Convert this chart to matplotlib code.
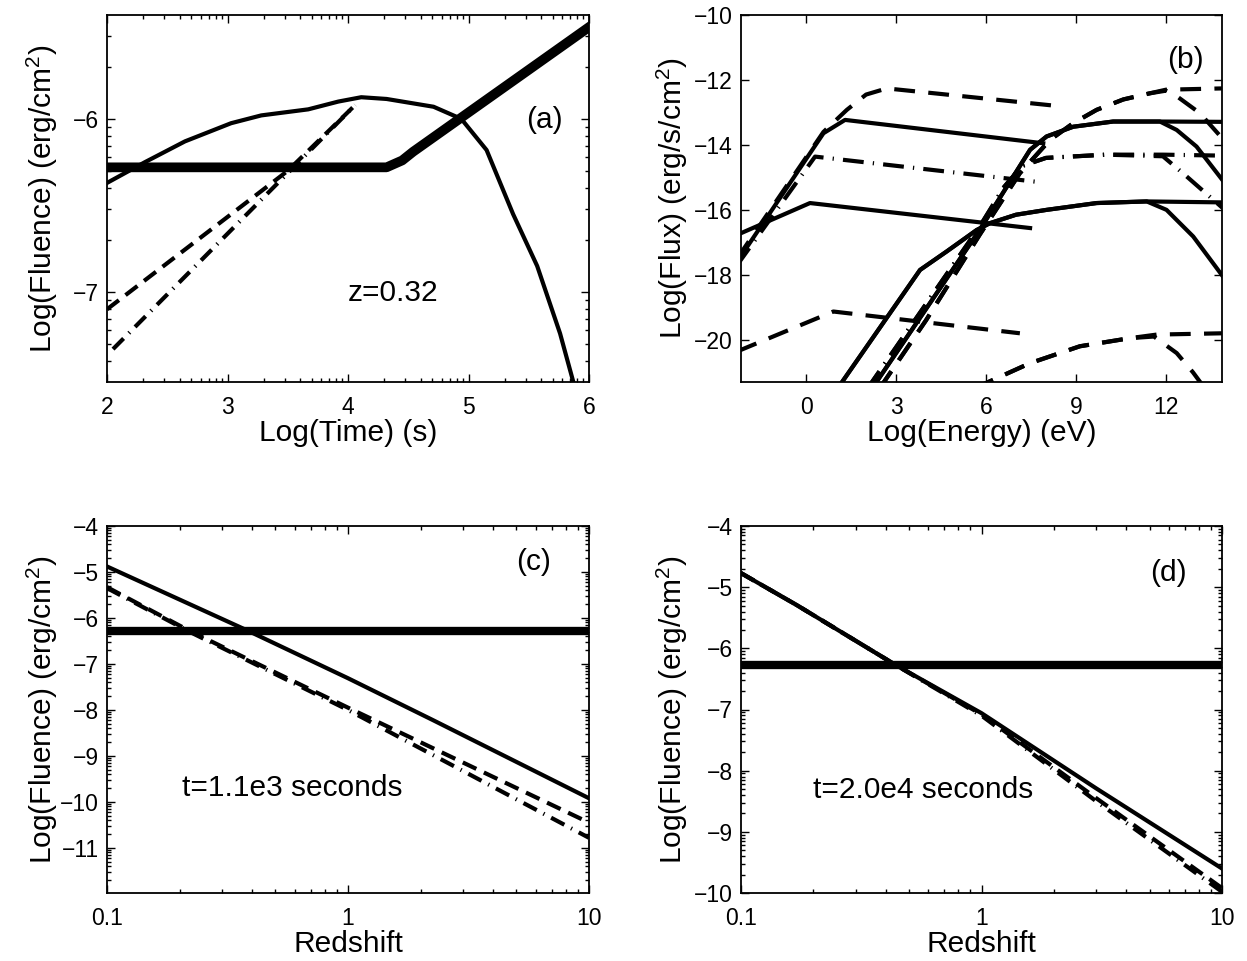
import numpy as np
import matplotlib
matplotlib.use("Agg")
import matplotlib.pyplot as plt
from matplotlib.ticker import FuncFormatter, LogLocator, MultipleLocator, NullFormatter

plt.rcParams["font.family"] = ["Liberation Sans", "DejaVu Sans"]
plt.rcParams["mathtext.fontset"] = "custom"
plt.rcParams["mathtext.rm"] = "Liberation Sans"
plt.rcParams["mathtext.default"] = "regular"
plt.rcParams["axes.unicode_minus"] = True

# ---- panel (a): fluence vs time, log10 values ----
t_model = [2.0, 2.315, 2.647, 3.03, 3.28, 3.67, 3.92, 4.11, 4.32, 4.71, 4.94, 5.15, 5.37, 5.57, 5.76, 5.87, 5.95]
f_model = [-6.37, -6.25, -6.13, -6.025, -5.98, -5.945, -5.90, -5.875, -5.885, -5.93, -6.0, -6.18, -6.55, -6.85, -7.24, -7.52, -7.75]
t_sens = [2.0, 4.32, 4.45, 4.54, 6.0]
f_sens = [-6.28, -6.28, -6.24, -6.19, -5.47]
t_dash = [2.0, 3.5, 4.06]
f_dash = [-7.10, -6.30, -5.92]
t_dashdot = [2.05, 4.06]
f_dashdot = [-7.33, -5.92]

# ---- panel (b): spectra, log10 values ----
sync_solid_hi_x = [-2.3, 0.58, 1.3, 7.91]
sync_solid_hi_y = [-17.6, -13.64, -13.23, -13.95]
sync_dash_hi_x = [-2.3, 0.58, 1.36, 2.0, 2.69, 8.58]
sync_dash_hi_y = [-17.5, -13.6, -12.92, -12.45, -12.26, -12.82]
sync_dashdot_x = [-2.3, 0.3, 7.63]
sync_dashdot_y = [-17.7, -14.36, -15.13]
sync_solid_lo_x = [-2.3, 0.13, 7.47]
sync_solid_lo_y = [-16.77, -15.79, -16.56]
sync_dash_lo_x = [-2.3, 0.91, 7.13]
sync_dash_lo_y = [-20.36, -19.13, -19.8]

ic_solid_hi_x = [2.2, 4.0, 5.8, 7.47, 8.02, 8.91, 10.24, 11.8, 13.9]
ic_solid_hi_y = [-21.5, -19.05, -16.6, -14.15, -13.74, -13.44, -13.28, -13.28, -13.29]
ic_solid_hi_abs_x = [2.2, 4.0, 5.8, 7.47, 8.02, 8.91, 10.24, 11.8, 12.36, 13.02, 13.9]
ic_solid_hi_abs_y = [-21.5, -19.05, -16.6, -14.15, -13.74, -13.44, -13.28, -13.28, -13.54, -14.05, -15.1]
ic_dash_hi_x = [2.45, 4.0, 5.8, 7.13, 8.13, 8.91, 9.69, 10.58, 11.47, 12.0, 13.9]
ic_dash_hi_y = [-21.5, -19.4, -16.75, -14.87, -13.85, -13.33, -12.92, -12.6, -12.41, -12.3, -12.26]
ic_dash_hi_abs_x = [2.45, 4.0, 5.8, 7.13, 8.13, 8.91, 9.69, 10.58, 11.47, 12.0, 12.36, 13.13, 13.9]
ic_dash_hi_abs_y = [-21.5, -19.4, -16.75, -14.87, -13.85, -13.33, -12.92, -12.6, -12.41, -12.33, -12.5, -13.02, -13.82]
ic_dashdot_x = [2.05, 5.8, 6.6, 7.2, 8.0, 10.0, 11.9, 13.9]
ic_dashdot_y = [-21.5, -16.5, -15.3, -14.65, -14.4, -14.3, -14.3, -14.33]
ic_dashdot_abs_x = [2.05, 5.8, 6.6, 7.2, 8.0, 10.0, 11.9, 12.69, 13.58, 13.9]
ic_dashdot_abs_y = [-21.5, -16.5, -15.3, -14.65, -14.4, -14.3, -14.35, -14.97, -15.69, -15.95]
ic_solid_lo_x = [1.05, 3.8, 4.69, 5.69, 6.13, 7.0, 8.02, 9.69, 11.36, 13.9]
ic_solid_lo_y = [-21.5, -17.85, -17.28, -16.62, -16.41, -16.15, -16.0, -15.79, -15.74, -15.77]
ic_solid_lo_abs_x = [1.05, 3.8, 4.69, 5.69, 6.13, 7.0, 8.02, 9.69, 11.36, 12.02, 12.91, 13.9]
ic_solid_lo_abs_y = [-21.5, -17.85, -17.28, -16.62, -16.41, -16.15, -16.0, -15.79, -15.74, -16.0, -16.82, -18.05]
ic_dash_lo_x = [5.6, 7.47, 9.13, 10.8, 11.69, 13.9]
ic_dash_lo_y = [-21.5, -20.72, -20.2, -19.95, -19.84, -19.8]
ic_dash_lo_abs_x = [5.6, 7.47, 9.13, 10.8, 11.6, 12.36, 12.9, 13.3]
ic_dash_lo_abs_y = [-21.5, -20.72, -20.2, -19.95, -19.9, -20.41, -21.0, -21.5]

# ---- panels (c), (d): fluence vs redshift, log10 fluence ----
fluence_limit = -6.28
z_c = [0.1, 0.378, 1.0, 2.25, 10.0]
fc_solid = [-4.88, -6.26, -7.31, -8.22, -9.92]
z_c2 = [0.1, 0.22, 1.0, 10.0]
fc_dash = [-5.33, -6.28, -7.95, -10.45]
fc_dashdot = [-5.35, -6.30, -8.0, -10.78]

z_d = [0.1, 0.17, 0.443, 1.0, 3.0, 10.0]
fd_solid = [-4.77, -5.29, -6.28, -7.06, -8.29, -9.60]
fd_dash = [-4.77, -5.29, -6.28, -7.08, -8.45, -9.92]
fd_dashdot = [-4.77, -5.29, -6.28, -7.10, -8.50, -9.98]

LW = 3.0
DASH = (0, (3.6, 2.0))
DASHDOT = (0, (3.6, 1.8, 0.3, 1.8))
DASH_B = (0, (5.0, 3.2))
DASHDOT_B = (0, (5.0, 2.2, 0.3, 2.2))
TICK_FS = 16.5
LABEL_FS = 21.5
TEXT_FS = 21.5

W, H = 1247, 961
fig = plt.figure(figsize=(W / 100, H / 100), dpi=100)


def frame(left, top, right, bottom):
    return fig.add_axes([left / W, 1 - bottom / H, (right - left) / W, (bottom - top) / H])


def style(ax, ylab_x, xlab_y=-0.1):
    ax.tick_params(which="both", direction="in", top=True, right=True, labelsize=TICK_FS, width=1)
    ax.tick_params(axis="x", pad=10)
    ax.tick_params(axis="y", pad=6)
    ax.tick_params(which="major", length=6)
    ax.tick_params(which="minor", length=3)
    for s in ax.spines.values():
        s.set_linewidth(1.3)
    ax.xaxis.set_label_coords(0.5, xlab_y)
    ax.yaxis.set_label_coords(ylab_x, 0.5)


exp_fmt = FuncFormatter(lambda v, p: f"{np.log10(v):.0f}".replace("-", "\u2212"))
pw = lambda a: 10.0 ** np.asarray(a)

# (a)
ax = frame(107, 15, 589, 382)
ax.plot(pw(t_model), pw(f_model), color="k", lw=LW)
ax.plot(pw(t_sens), pw(f_sens), color="k", lw=7, solid_joinstyle="round")
ax.plot(pw(t_dash), pw(f_dash), color="k", lw=LW, linestyle=DASH)
ax.plot(pw(t_dashdot), pw(f_dashdot), color="k", lw=LW, linestyle=DASHDOT)
ax.set_xscale("log")
ax.set_yscale("log")
ax.set_xlim(1e2, 1e6)
ax.set_ylim(10 ** -7.52, 10 ** -5.40)
for axis in (ax.xaxis, ax.yaxis):
    axis.set_major_locator(LogLocator(base=10, numticks=20))
    axis.set_minor_locator(LogLocator(base=10, subs=np.arange(2, 10), numticks=20))
    axis.set_major_formatter(exp_fmt)
    axis.set_minor_formatter(NullFormatter())
ax.set_xlabel("Log(Time) (s)", fontsize=LABEL_FS)
ax.set_ylabel("Log(Fluence) (erg/cm$^2$)", fontsize=LABEL_FS)
ax.text(0.907, 0.714, "(a)", transform=ax.transAxes, fontsize=TEXT_FS, ha="center", va="center")
ax.text(0.593, 0.243, "z=0.32", transform=ax.transAxes, fontsize=TEXT_FS, ha="center", va="center")
style(ax, -0.098)

# (b)
ax = frame(741, 15, 1222, 382)
solid_b = [(sync_solid_hi_x, sync_solid_hi_y), (sync_solid_lo_x, sync_solid_lo_y),
           (ic_solid_hi_x, ic_solid_hi_y), (ic_solid_hi_abs_x, ic_solid_hi_abs_y),
           (ic_solid_lo_x, ic_solid_lo_y), (ic_solid_lo_abs_x, ic_solid_lo_abs_y)]
dash_b = [(sync_dash_hi_x, sync_dash_hi_y), (sync_dash_lo_x, sync_dash_lo_y),
          (ic_dash_hi_x, ic_dash_hi_y), (ic_dash_hi_abs_x, ic_dash_hi_abs_y),
          (ic_dash_lo_x, ic_dash_lo_y), (ic_dash_lo_abs_x, ic_dash_lo_abs_y)]
dashdot_b = [(sync_dashdot_x, sync_dashdot_y), (ic_dashdot_x, ic_dashdot_y),
             (ic_dashdot_abs_x, ic_dashdot_abs_y)]
for xs, ys in solid_b:
    ax.plot(xs, ys, color="k", lw=LW)
for xs, ys in dash_b:
    ax.plot(xs, ys, color="k", lw=LW, linestyle=DASH_B)
for xs, ys in dashdot_b:
    ax.plot(xs, ys, color="k", lw=LW, linestyle=DASHDOT_B)
ax.set_xlim(-2.17, 13.87)
ax.set_ylim(-21.3, -10)
ax.xaxis.set_major_locator(MultipleLocator(3))
ax.yaxis.set_major_locator(MultipleLocator(2))
ax.yaxis.set_major_formatter(FuncFormatter(lambda v, p: f"{v:.0f}".replace("-", "\u2212")))
ax.set_xlabel("Log(Energy) (eV)", fontsize=LABEL_FS)
ax.set_ylabel("Log(Flux) (erg/s/cm$^2$)", fontsize=LABEL_FS)
ax.text(0.923, 0.877, "(b)", transform=ax.transAxes, fontsize=TEXT_FS, ha="center", va="center")
style(ax, -0.105)


def redshift_panel(box, ylo, yhi, zs, solid, zs2, dash, dashdot, tag, tagpos, note, notepos, ylab_x):
    ax = frame(*box)
    ax.plot(zs, pw(solid), color="k", lw=LW)
    ax.plot([0.1, 10], pw([fluence_limit, fluence_limit]), color="k", lw=6)
    ax.plot(zs2, pw(dash), color="k", lw=LW, linestyle=DASH)
    ax.plot(zs2, pw(dashdot), color="k", lw=LW, linestyle=DASHDOT)
    ax.set_xscale("log")
    ax.set_yscale("log")
    ax.set_xlim(0.1, 10)
    ax.set_ylim(10 ** ylo, 10 ** yhi)
    ax.xaxis.set_major_formatter(FuncFormatter(lambda v, p: f"{v:g}"))
    ax.yaxis.set_major_locator(LogLocator(base=10, numticks=20))
    ax.yaxis.set_major_formatter(exp_fmt)
    for axis in (ax.xaxis, ax.yaxis):
        axis.set_minor_locator(LogLocator(base=10, subs=np.arange(2, 10), numticks=20))
        axis.set_minor_formatter(NullFormatter())
    ax.set_xlabel("Redshift", fontsize=LABEL_FS)
    ax.set_ylabel("Log(Fluence) (erg/cm$^2$)", fontsize=LABEL_FS)
    ax.text(*tagpos, tag, transform=ax.transAxes, fontsize=TEXT_FS, ha="center", va="center")
    ax.text(*notepos, note, transform=ax.transAxes, fontsize=TEXT_FS, ha="left", va="center")
    style(ax, ylab_x, -0.1)
    return ax


redshift_panel((107, 526, 589, 893), -11.98, -4, z_c, fc_solid, z_c2, fc_dash, fc_dashdot,
               "(c)", (0.884, 0.902), "t=1.1e3 seconds", (0.156, 0.286), -0.098)
redshift_panel((741, 526, 1222, 893), -10, -4, z_d, fd_solid, z_d, fd_dash, fd_dashdot,
               "(d)", (0.888, 0.872), "t=2.0e4 seconds", (0.15, 0.281), -0.105)

fig.savefig("out.png", dpi=100)
